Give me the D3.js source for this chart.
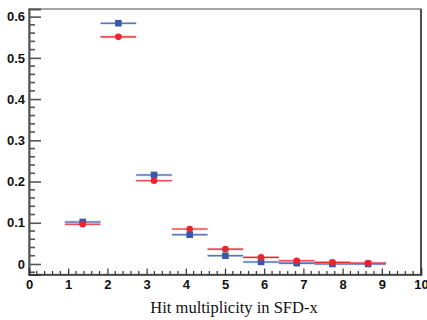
<!DOCTYPE html>
<html><head><meta charset="utf-8">
<script src="https://cdn.jsdelivr.net/npm/d3@7"></script>
<style>body{margin:0;background:#fff}svg{display:block}</style>
</head><body>
<script>
const binCenters = [1.37, 2.28, 3.19, 4.10, 5.01, 5.92, 6.83, 7.74, 8.65];
const halfWidth = 0.455;
const blueValues = [0.102, 0.584, 0.216, 0.071, 0.020, 0.005, 0.002, 0.000, 0.000];
const redValues  = [0.0965, 0.551, 0.202, 0.085, 0.036, 0.016, 0.008, 0.004, 0.0025];
const xTicks = [0,1,2,3,4,5,6,7,8,9,10];
const yTicks = [0,0.1,0.2,0.3,0.4,0.5,0.6];
const xTitle = "Hit multiplicity in SFD-x";

const W = 427, H = 320;
const L = 29, R = 421, T = 9, B = 274.5;
const svg = d3.select("body").append("svg").attr("width", W).attr("height", H);
const x = d3.scaleLinear().domain([0, 10]).range([L, R]);
const y = d3.scaleLinear().domain([-0.0255, 0.6185]).range([B, T]);

// frame
svg.append("rect").attr("x", L).attr("y", T).attr("width", R - L).attr("height", B - T)
  .attr("fill", "none").attr("stroke", "#888").attr("stroke-width", 1.5);
svg.append("line").attr("x1", R).attr("x2", R).attr("y1", T).attr("y2", B).attr("stroke", "#333").attr("stroke-width", 1.5);

// y axis
const yAx = svg.append("g").attr("transform", `translate(${L},0)`)
  .call(d3.axisRight(y).tickValues(yTicks).tickSize(12).tickFormat(d => d === 0 ? "0" : d3.format(".1f")(d)));
yAx.select(".domain").attr("stroke", "#555").attr("stroke-width", 2);
yAx.selectAll(".tick line").attr("stroke", "#555").attr("stroke-width", 1.6);
yAx.selectAll(".tick text").attr("x", -4).attr("text-anchor", "end")
  .style("font-family", "Liberation Sans, Arial, sans-serif").style("font-weight", "bold").style("font-size", "13px").attr("fill", "#111");
const yMinor = d3.range(-0.02, 0.62, 0.02).filter(v => Math.abs(Math.round(v * 10) - v * 10) > 1e-6);
svg.append("g").selectAll("line").data(yMinor).join("line")
  .attr("x1", L).attr("x2", L + 6).attr("y1", d => y(d)).attr("y2", d => y(d))
  .attr("stroke", "#555").attr("stroke-width", 1.6);

// x axis
const xAx = svg.append("g").attr("transform", `translate(0,${B})`)
  .call(d3.axisTop(x).tickValues(xTicks).tickSize(6).tickFormat(d3.format("d")));
xAx.select(".domain").attr("stroke", "#333").attr("stroke-width", 1.6);
xAx.selectAll(".tick line").attr("stroke", "#333").attr("stroke-width", 1.2);
xAx.selectAll(".tick text").attr("y", 14).attr("dy", 0)
  .style("font-family", "Liberation Sans, Arial, sans-serif").style("font-weight", "bold").style("font-size", "13px").attr("fill", "#111");
const xMinor = d3.range(0.2, 10, 0.2).filter(v => Math.abs(v - Math.round(v)) > 1e-6);
svg.append("g").selectAll("line").data(xMinor).join("line")
  .attr("x1", d => x(d)).attr("x2", d => x(d)).attr("y1", B).attr("y2", B - 3.5)
  .attr("stroke", "#333").attr("stroke-width", 1.2);

// x title
svg.append("text").attr("x", 234).attr("y", 313).attr("text-anchor", "middle")
  .style("font-family", "Liberation Serif, 'Times New Roman', serif").style("font-size", "16.5px")
  .attr("fill", "#111").text(xTitle);

function series(vals, color, halo, marker) {
  const g = svg.append("g");
  const data = binCenters.map((c, i) => ({c, v: vals[i]}));
  g.selectAll("line.h").data(data).join("line")
    .attr("x1", d => x(d.c - halfWidth)).attr("x2", d => x(d.c + halfWidth))
    .attr("y1", d => y(d.v)).attr("y2", d => y(d.v)).attr("stroke", halo).attr("stroke-width", 2.6);
  g.selectAll("line.e").data(data).join("line")
    .attr("x1", d => x(d.c - halfWidth)).attr("x2", d => x(d.c + halfWidth))
    .attr("y1", d => y(d.v)).attr("y2", d => y(d.v)).attr("stroke", color).attr("stroke-width", 1.1);
  if (marker === "square") {
    g.selectAll("rect").data(data).join("rect")
      .attr("x", d => x(d.c) - 3.3).attr("y", d => y(d.v) - 3.3).attr("width", 6.6).attr("height", 6.6).attr("fill", color);
  } else {
    g.selectAll("circle").data(data).join("circle")
      .attr("cx", d => x(d.c)).attr("cy", d => y(d.v)).attr("r", 3.3).attr("fill", color);
  }
}
series(blueValues, "#3a58a8", "rgba(90,120,200,0.35)", "square");
series(redValues, "#e8262c", "rgba(240,80,80,0.3)", "circle");
</script>
</body></html>
